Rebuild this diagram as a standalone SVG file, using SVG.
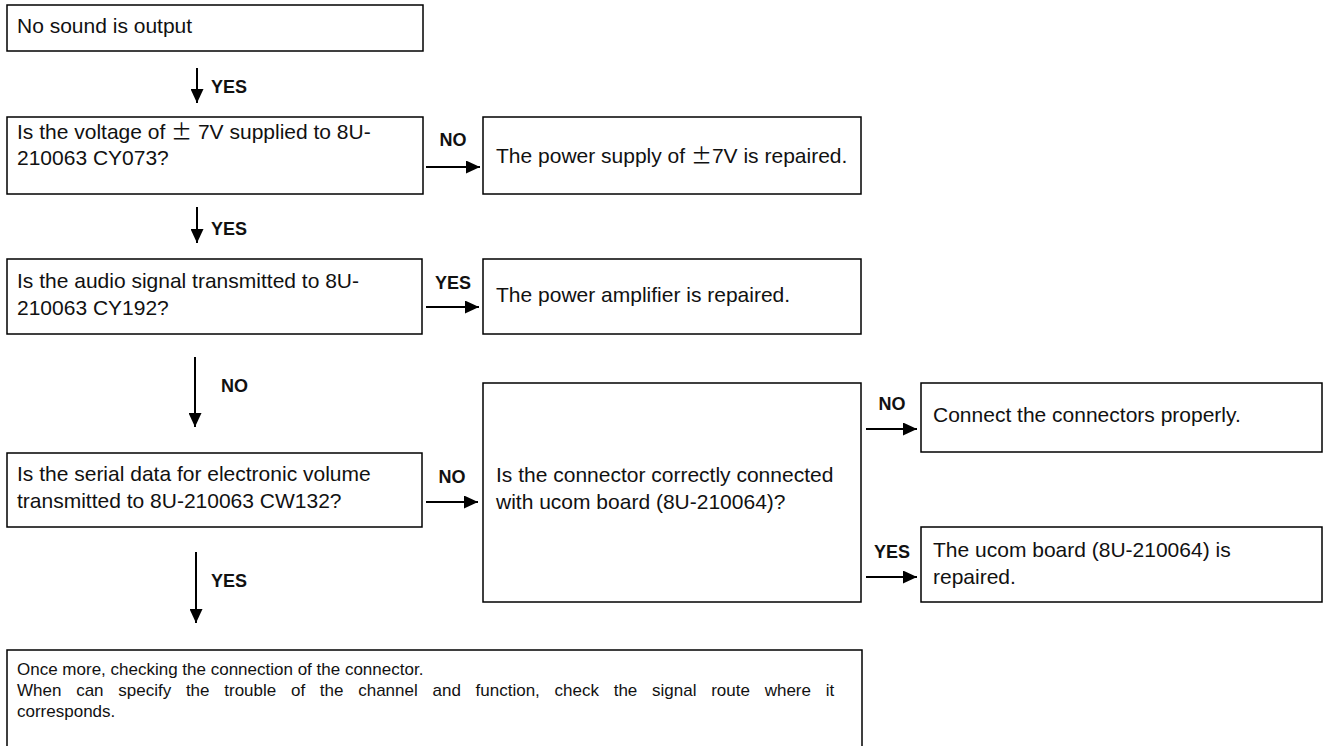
<svg xmlns="http://www.w3.org/2000/svg" width="1324" height="746" viewBox="0 0 1324 746">
<defs>
<style>
.box{fill:#fff;stroke:#000;stroke-width:1.5}
.t{font-family:"Liberation Sans",Arial,sans-serif;font-size:21px;fill:#111}
.n{font-family:"Liberation Sans",Arial,sans-serif;font-size:17px;fill:#111}
.l{font-family:"Liberation Sans",Arial,sans-serif;font-size:18px;font-weight:bold;fill:#111}
.c{fill:none;stroke:#000;stroke-width:2}
.pm{font-family:"Noto Sans CJK JP",sans-serif}
</style>
<marker id="ah2" markerWidth="14" markerHeight="13" refX="14" refY="6.5" orient="auto" markerUnits="userSpaceOnUse" viewBox="0 0 14 13">
<path d="M0,0 L14,6.5 L0,13 z" fill="#000"/>
</marker>
</defs>
<g id="n1"><rect class="box" x="7" y="5" width="416" height="46"/><text class="t" x="17" y="33">No sound is output</text></g>
<g id="n2"><rect class="box" x="7" y="117" width="416" height="77"/><text class="t" x="17" y="139">Is the voltage of <tspan class="pm">±</tspan> 7V supplied to 8U-</text><text class="t" x="17" y="165">210063 CY073?</text></g>
<g id="n3"><rect class="box" x="483" y="117" width="378" height="77"/><text class="t" x="496" y="163">The power supply of <tspan class="pm">±</tspan>7V is repaired.</text></g>
<g id="n4"><rect class="box" x="7" y="259" width="415" height="75"/><text class="t" x="17" y="288">Is the audio signal transmitted to 8U-</text><text class="t" x="17" y="315">210063 CY192?</text></g>
<g id="n5"><rect class="box" x="483" y="259" width="378" height="75"/><text class="t" x="496" y="302">The power amplifier is repaired.</text></g>
<g id="n6"><rect class="box" x="7" y="453" width="415" height="74"/><text class="t" x="17" y="481">Is the serial data for electronic volume</text><text class="t" x="17" y="508">transmitted to 8U-210063 CW132?</text></g>
<g id="n7"><rect class="box" x="483" y="383" width="378" height="219"/><text class="t" x="496" y="482">Is the connector correctly connected</text><text class="t" x="496" y="509">with ucom board (8U-210064)?</text></g>
<g id="n8"><rect class="box" x="921" y="383" width="401" height="69"/><text class="t" x="933" y="422">Connect the connectors properly.</text></g>
<g id="n9"><rect class="box" x="921" y="527" width="401" height="75"/><text class="t" x="933" y="557">The ucom board (8U-210064) is</text><text class="t" x="933" y="584">repaired.</text></g>
<g id="n10"><rect class="box" x="7" y="650" width="855" height="120"/>
<text class="n" x="17" y="675">Once more, checking the connection of the connector.</text>
<text class="n" x="17" y="696" word-spacing="10">When can specify the trouble of the channel and function, check the signal route where it</text>
<text class="n" x="17" y="717">corresponds.</text></g>
<g id="connectors">
<line class="c" x1="197" y1="68" x2="197" y2="103" marker-end="url(#ah2)"/>
<text class="l" x="211" y="93">YES</text>
<line class="c" x1="197" y1="207" x2="197" y2="243" marker-end="url(#ah2)"/>
<text class="l" x="211" y="235">YES</text>
<line class="c" x1="426" y1="167" x2="480" y2="167" marker-end="url(#ah2)"/>
<text class="l" x="453" y="146" text-anchor="middle">NO</text>
<line class="c" x1="426" y1="307" x2="479" y2="307" marker-end="url(#ah2)"/>
<text class="l" x="453" y="289" text-anchor="middle">YES</text>
<line class="c" x1="195" y1="357" x2="195" y2="427" marker-end="url(#ah2)"/>
<text class="l" x="221" y="392">NO</text>
<line class="c" x1="426" y1="502" x2="478" y2="502" marker-end="url(#ah2)"/>
<text class="l" x="452" y="483" text-anchor="middle">NO</text>
<line class="c" x1="196" y1="552" x2="196" y2="623" marker-end="url(#ah2)"/>
<text class="l" x="211" y="587">YES</text>
<line class="c" x1="866" y1="429" x2="917" y2="429" marker-end="url(#ah2)"/>
<text class="l" x="892" y="410" text-anchor="middle">NO</text>
<line class="c" x1="866" y1="577" x2="917" y2="577" marker-end="url(#ah2)"/>
<text class="l" x="892" y="558" text-anchor="middle">YES</text>
</g>
</svg>
